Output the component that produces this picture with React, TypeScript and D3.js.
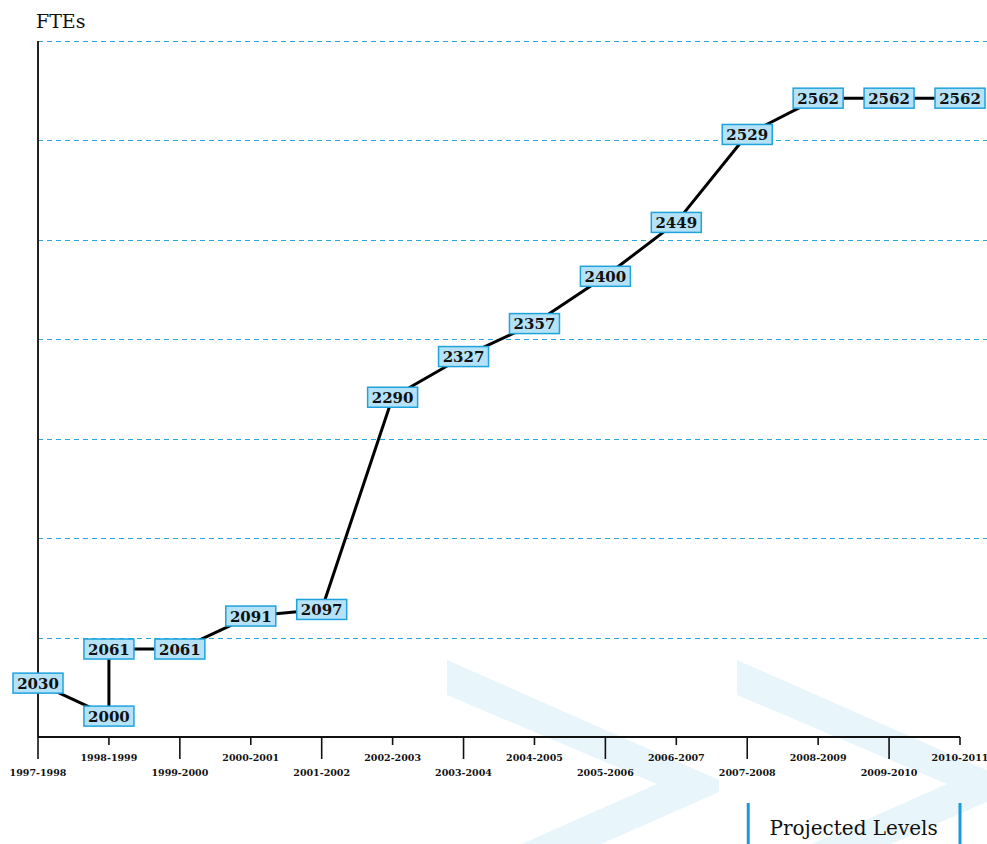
import React from "react";
import * as d3 from "d3";

const periods = [
  "1997-1998", "1998-1999", "1999-2000", "2000-2001", "2001-2002", "2002-2003", "2003-2004",
  "2004-2005", "2005-2006", "2006-2007", "2007-2008", "2008-2009", "2009-2010", "2010-2011",
];
const pointPeriods = [
  "1997-1998", "1998-1999", "1998-1999", "1999-2000", "2000-2001", "2001-2002", "2002-2003",
  "2003-2004", "2004-2005", "2005-2006", "2006-2007", "2007-2008", "2008-2009", "2009-2010", "2010-2011",
];
const fteValues = [2030, 2000, 2061, 2061, 2091, 2097, 2290, 2327, 2357, 2400, 2449, 2529, 2562, 2562, 2562];
const yTitle = "FTEs";
const projectedLabel = "Projected Levels";
const projectedFrom = "2007-2008";
const projectedTo = "2010-2011";

const W = 987;
const H = 844;
const LEFT = 38;
const RIGHT = 960;
const TOP = 41;
const BOTTOM = 737;
const GRID_COUNT = 7;

const GRID = "#2aa5de";
const BOX_FILL = "#b5e2f6";
const BOX_STROKE = "#1ea3dd";
const WATERMARK = "#e8f5fb";

export default function App() {
  const x = d3.scalePoint<string>().domain(periods).range([LEFT, RIGHT]);
  const y = d3.scaleLinear().domain([1981, 2614]).range([BOTTOM, TOP]);
  const [d0, d1] = y.domain();
  const gridValues = d3.range(1, GRID_COUNT + 1).map((i) => d0 + (i * (d1 - d0)) / GRID_COUNT);

  const pts = fteValues.map((v, i) => ({ x: x(pointPeriods[i]) as number, y: y(v), v }));
  const line = d3.line<{ x: number; y: number }>().x((d) => d.x).y((d) => d.y);

  const chevron = (ox: number, oy: number) => {
    const pts2: [number, number][] = [
      [0, 0], [272, 120], [272, 132], [0, 252], [0, 217], [210, 124], [0, 35],
    ];
    return d3.line()(pts2.map(([a, b]) => [ox + a, oy + b])) + "Z";
  };

  const boxW = 50;
  const boxH = 20;

  return (
    <svg width={W} height={H} style={{ position: "absolute", left: 0, top: 0, background: "#fff" }}>
      <path d={chevron(447, 660)} fill={WATERMARK} />
      <path d={chevron(737, 660)} fill={WATERMARK} />

      <text x={36} y={28} fontFamily="DejaVu Serif" fontSize={19} fill="#111">{yTitle}</text>

      {gridValues.map((g, i) => (
        <line key={i} x1={LEFT} x2={W} y1={Math.round(y(g)) + 0.5} y2={Math.round(y(g)) + 0.5}
          stroke={GRID} strokeWidth={1} strokeDasharray="5,4" />
      ))}

      <line x1={LEFT} x2={LEFT} y1={TOP} y2={BOTTOM} stroke="#222" strokeWidth={2} />
      <line x1={LEFT} x2={RIGHT} y1={BOTTOM} y2={BOTTOM} stroke="#111" strokeWidth={2} />

      {periods.map((p, i) => {
        const px = x(p) as number;
        const long = i % 2 === 0;
        return (
          <g key={p}>
            <line x1={px} x2={px} y1={BOTTOM} y2={BOTTOM + (long ? 22 : 8)} stroke="#111" strokeWidth={1.6} />
            <text x={px} y={long ? 776 : 761} textAnchor="middle" fontFamily="DejaVu Serif"
              fontWeight="bold" fontSize={9.5} fill="#111">{p}</text>
          </g>
        );
      })}

      <path d={line(pts) as string} fill="none" stroke="#000" strokeWidth={3} strokeLinejoin="round" />

      {pts.map((p, i) => (
        <g key={i}>
          <rect x={p.x - boxW / 2} y={p.y - boxH / 2} width={boxW} height={boxH}
            fill={BOX_FILL} stroke={BOX_STROKE} strokeWidth={1.5} />
          <text x={p.x} y={p.y + 5.5} textAnchor="middle" fontFamily="DejaVu Serif"
            fontWeight="bold" fontSize={15} fill="#111">{p.v}</text>
        </g>
      ))}

      <line x1={(x(projectedFrom) as number) + 1} x2={(x(projectedFrom) as number) + 1} y1={803} y2={H}
        stroke="#1a9bd7" strokeWidth={3} />
      <line x1={x(projectedTo) as number} x2={x(projectedTo) as number} y1={803} y2={H}
        stroke="#1a9bd7" strokeWidth={3} />
      <text x={((x(projectedFrom) as number) + (x(projectedTo) as number)) / 2} y={835}
        textAnchor="middle" fontFamily="DejaVu Serif" fontSize={20} fill="#111">{projectedLabel}</text>
    </svg>
  );
}
